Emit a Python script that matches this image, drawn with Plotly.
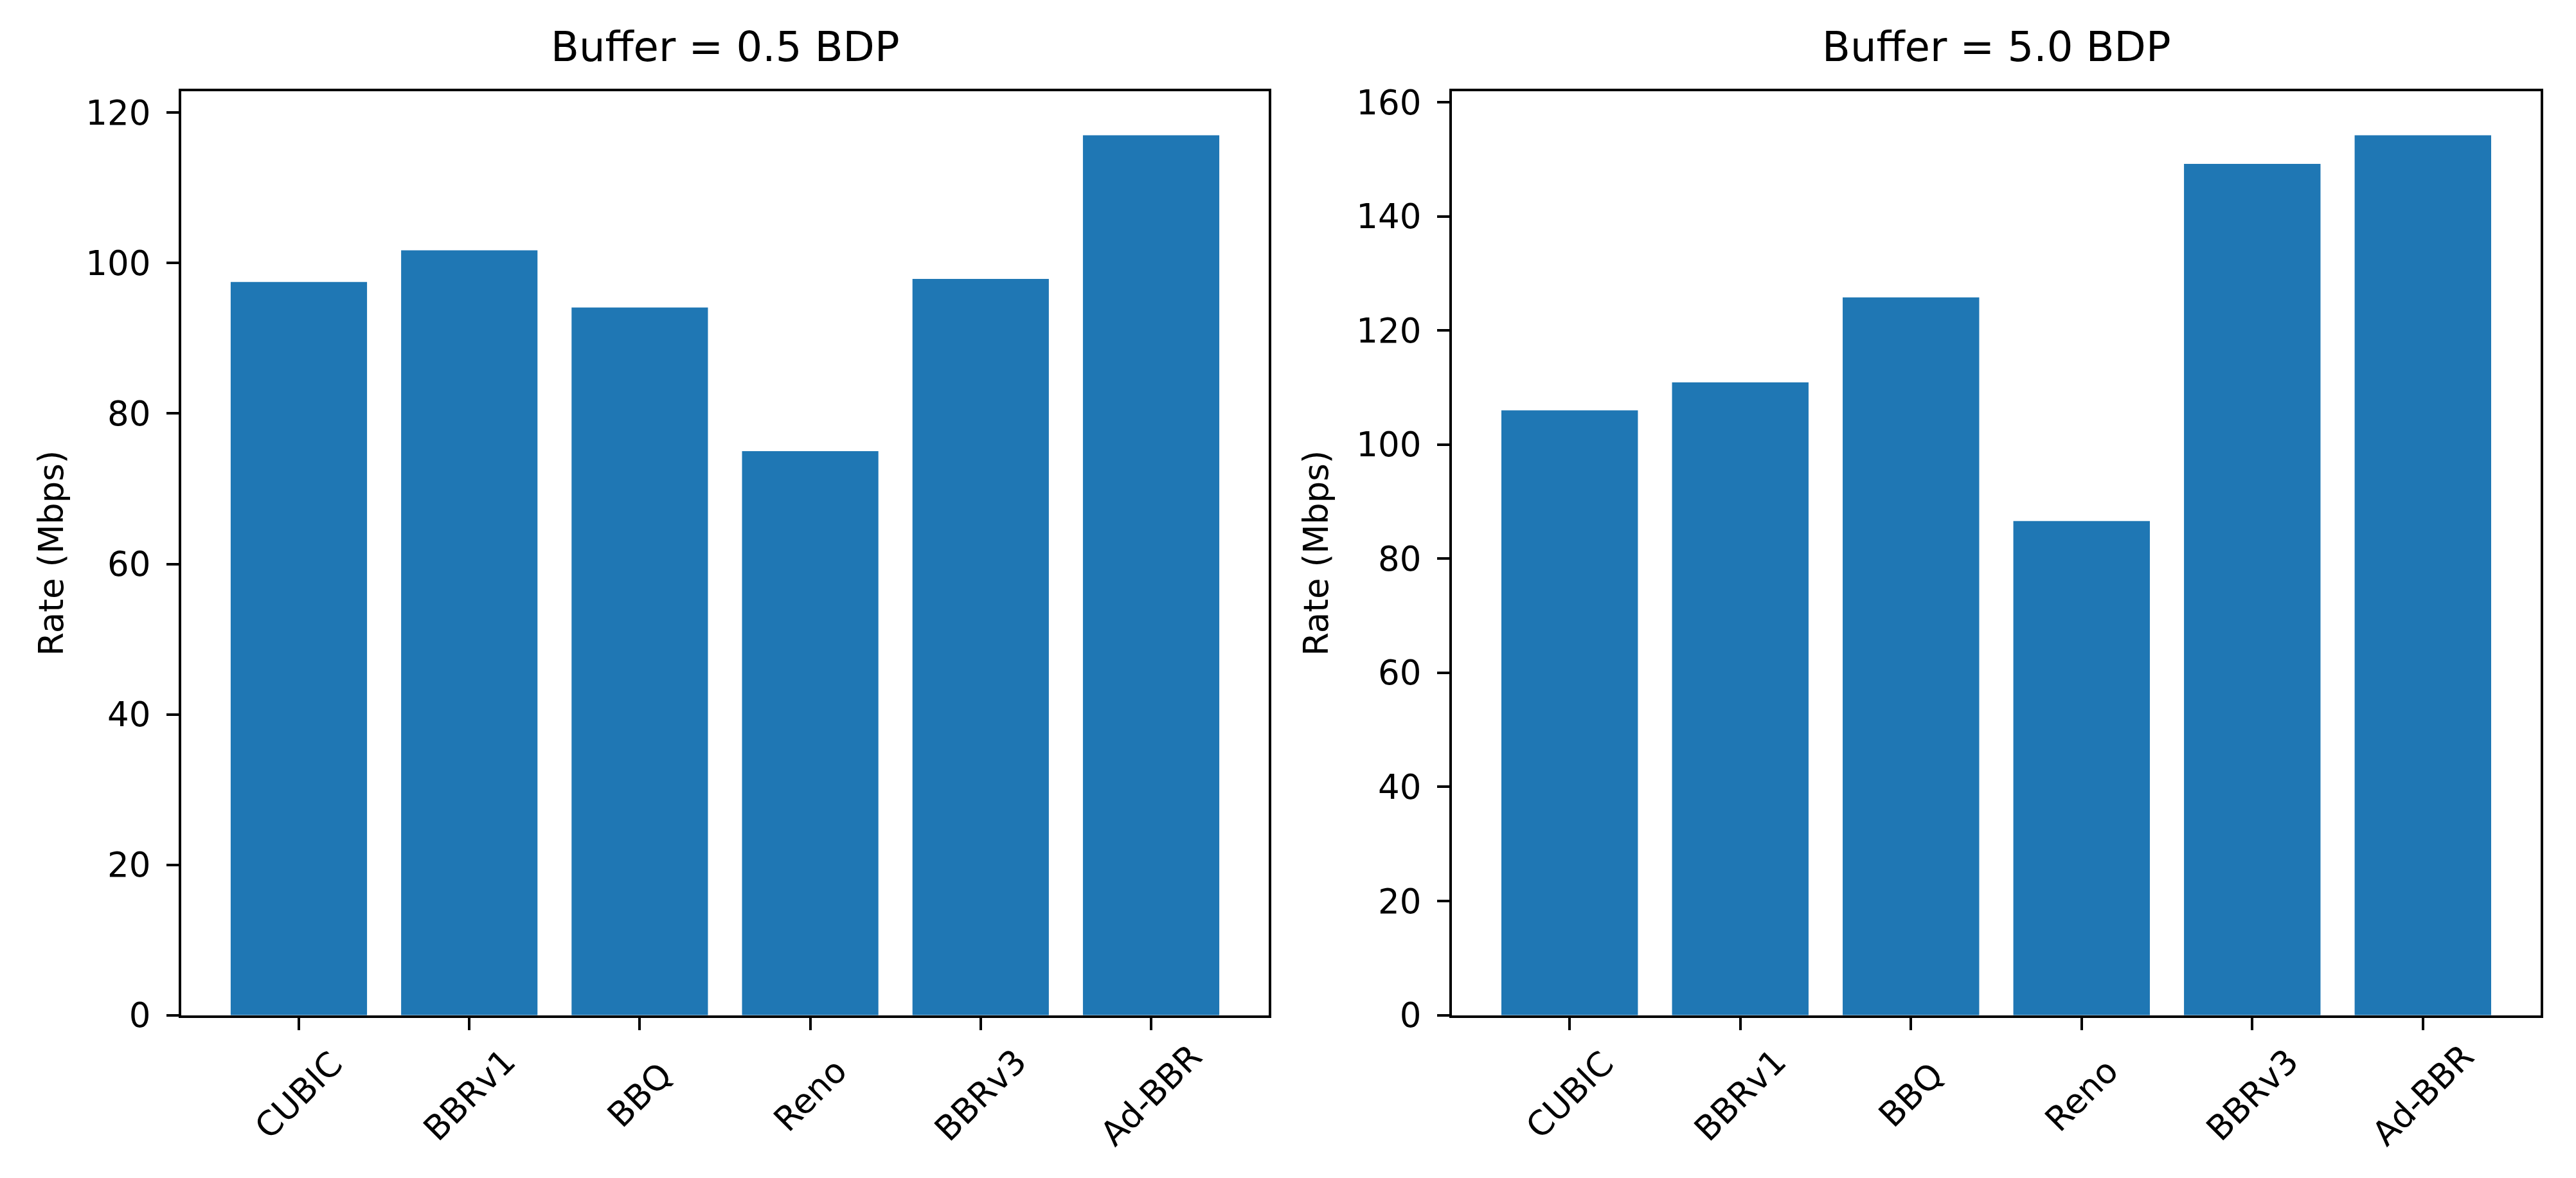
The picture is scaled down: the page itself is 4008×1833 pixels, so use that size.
import plotly.graph_objects as go

categories = ["CUBIC", "BBRv1", "BBQ", "Reno", "BBRv3", "Ad-BBR"]
rate_05_bdp = [97.5, 101.7, 94.1, 75.0, 97.9, 117.0]
rate_50_bdp = [106.0, 110.9, 125.8, 86.6, 149.2, 154.2]
titles = ["Buffer = 0.5 BDP", "Buffer = 5.0 BDP"]
y_label = "Rate (Mbps)"

W, H = 4008, 1833
BAR_COLOR = "#1f77b4"
FONT = "DejaVu Sans"
TICK_SIZE = 53
TITLE_SIZE = 64

x_domains = [(274 / W, 1966 / W), (2251 / W, 3945 / W)]
y_domain = (1 - 1597 / H, 1 - 124 / H)
ytitle_x = [72 / W, 2040 / W]

fig = go.Figure()
series = [rate_05_bdp, rate_50_bdp]
annotations = []
for i, vals in enumerate(series):
    xa = "x" if i == 0 else "x2"
    ya = "y" if i == 0 else "y2"
    fig.add_trace(go.Bar(x=categories, y=vals, marker_color=BAR_COLOR,
                         marker_line_width=0, xaxis=xa, yaxis=ya, showlegend=False))
    axis_common = dict(showline=True, mirror=True, linecolor="black", linewidth=4,
                       ticks="outside", ticklen=19, tickwidth=4, tickcolor="black",
                       showgrid=False, zeroline=False,
                       tickfont=dict(family=FONT, size=TICK_SIZE, color="black"))
    n = len(categories)
    xkey = "xaxis" if i == 0 else "xaxis2"
    ykey = "yaxis" if i == 0 else "yaxis2"
    fig.update_layout(**{
        xkey: dict(domain=list(x_domains[i]), anchor=ya, type="category",
                   range=[-0.4 - 0.05 * (n - 0.2), n - 0.6 + 0.05 * (n - 0.2)],
                   showticklabels=False, **axis_common),
        ykey: dict(domain=list(y_domain), anchor=xa, range=[0, max(vals) * 1.05],
                   dtick=20, ticklabelstandoff=14, **axis_common),
    })
    # subplot title
    annotations.append(dict(text=titles[i], xref="paper", yref="paper",
                            x=(x_domains[i][0] + x_domains[i][1]) / 2, y=y_domain[1],
                            xanchor="center", yanchor="bottom", yshift=30, showarrow=False,
                            font=dict(family=FONT, size=TITLE_SIZE, color="black")))
    # y-axis title
    annotations.append(dict(text=y_label, xref="paper", yref="paper",
                            x=ytitle_x[i], y=(y_domain[0] + y_domain[1]) / 2,
                            xanchor="center", yanchor="middle", textangle=-90, showarrow=False,
                            font=dict(family=FONT, size=TICK_SIZE, color="black")))
    # rotated category labels centred under each tick
    for c in categories:
        annotations.append(dict(text=c, xref=xa, yref="paper", x=c, y=y_domain[0],
                                xanchor="center", yanchor="middle", yshift=-124,
                                textangle=-45, showarrow=False,
                                font=dict(family=FONT, size=TICK_SIZE, color="black")))

fig.update_layout(width=W, height=H, margin=dict(l=0, r=0, t=0, b=0),
                  paper_bgcolor="white", plot_bgcolor="white", bargap=0.2,
                  annotations=annotations)

fig.write_html("out.html")
